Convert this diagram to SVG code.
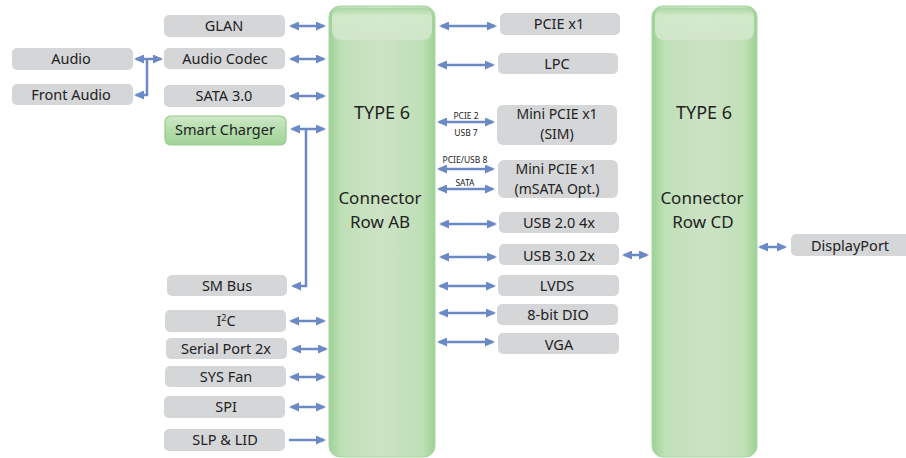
<svg xmlns="http://www.w3.org/2000/svg" width="906" height="458" viewBox="0 0 906 458">
<defs>
<linearGradient id="conn" x1="0" y1="0" x2="1" y2="0">
<stop offset="0" stop-color="#9dd196"/>
<stop offset="0.12" stop-color="#bfe0b6"/>
<stop offset="0.5" stop-color="#cde2c5"/>
<stop offset="0.88" stop-color="#bfe0b6"/>
<stop offset="1" stop-color="#9dd196"/>
</linearGradient>
<linearGradient id="gloss" x1="0" y1="0" x2="0" y2="1">
<stop offset="0" stop-color="#a8d79f"/>
<stop offset="0.25" stop-color="#d4ebcd"/>
<stop offset="1" stop-color="#d2e6cb"/>
</linearGradient>
<linearGradient id="sc" x1="0" y1="0" x2="0" y2="1">
<stop offset="0" stop-color="#cfe9c8"/>
<stop offset="0.5" stop-color="#b3dcaa"/>
<stop offset="1" stop-color="#a3d499"/>
</linearGradient>
<marker id="ah" viewBox="0 0 10 9" refX="8" refY="4.5" markerWidth="10" markerHeight="9" markerUnits="userSpaceOnUse" orient="auto-start-reverse">
<path d="M0,0 L10,4.5 L0,9 z" fill="#6b89c5"/>
</marker>
<style>
.box{fill:#d5d6d8;}
.t{font-family:"Noto Sans","DejaVu Sans",sans-serif;font-size:14.5px;fill:#222;text-anchor:middle;}
.t2{font-family:"Noto Sans","DejaVu Sans",sans-serif;font-size:14px;fill:#222;text-anchor:middle;}
.big{font-family:"Noto Sans","DejaVu Sans",sans-serif;font-size:18px;fill:#222;text-anchor:middle;}
.big2{font-family:"Noto Sans","DejaVu Sans",sans-serif;font-size:17px;fill:#222;text-anchor:middle;}
.s{font-family:"Noto Sans","DejaVu Sans",sans-serif;font-size:8.5px;fill:#222;text-anchor:middle;}
.a{stroke:#6b89c5;stroke-width:2.5;fill:none;}
.d{marker-start:url(#ah);marker-end:url(#ah);}
.e{marker-end:url(#ah);}
</style>
</defs>

<g id="connAB">
<rect x="329" y="6" width="106" height="451" rx="11" fill="url(#conn)" stroke="#a9d7a1" stroke-width="1"/>
<path d="M332,17 Q332,8 342,8 H422 Q432,8 432,17 V30 Q432,40 422,40 H342 Q332,40 332,30 Z" fill="url(#gloss)" opacity="0.9"/>
<text class="big" x="382" y="119">TYPE 6</text>
<text class="big2" x="380" y="204">Connector</text>
<text class="big2" x="380" y="228">Row AB</text>
</g>
<g id="connCD">
<rect x="652" y="6" width="105" height="451" rx="11" fill="url(#conn)" stroke="#a9d7a1" stroke-width="1"/>
<path d="M655,17 Q655,8 665,8 H744 Q754,8 754,17 V30 Q754,40 744,40 H665 Q655,40 655,30 Z" fill="url(#gloss)" opacity="0.9"/>
<text class="big" x="704" y="119">TYPE 6</text>
<text class="big2" x="702" y="204">Connector</text>
<text class="big2" x="703" y="228">Row CD</text>
</g>

<g id="glan"><rect class="box" x="164" y="15" width="121" height="22" rx="5"/><text class="t" x="224" y="31">GLAN</text></g>
<g id="audiocodec"><rect class="box" x="164" y="48" width="121" height="21" rx="5"/><text class="t" x="225" y="64">Audio Codec</text></g>
<g id="sata"><rect class="box" x="164" y="85" width="121" height="22" rx="5"/><text class="t" x="224" y="101">SATA 3.0</text></g>
<g id="smartcharger"><rect x="165" y="116" width="121" height="29" rx="6" fill="url(#sc)" stroke="#92cb8a" stroke-width="1.2"/><text class="t" x="225" y="135">Smart Charger</text></g>
<g id="audio"><rect class="box" x="12" y="48" width="121" height="22" rx="5"/><text class="t" x="71" y="64">Audio</text></g>
<g id="frontaudio"><rect class="box" x="12" y="84" width="121" height="21" rx="5"/><text class="t" x="71" y="100">Front Audio</text></g>
<g id="smbus"><rect class="box" x="167" y="275" width="120" height="21" rx="5"/><text class="t" x="227" y="291">SM Bus</text></g>
<g id="i2c"><rect class="box" x="165" y="310" width="121" height="22" rx="5"/><text class="t" x="226" y="326">I<tspan font-size="9" dy="-5">2</tspan><tspan dy="5">C</tspan></text></g>
<g id="serial"><rect class="box" x="166" y="338" width="121" height="21" rx="5"/><text class="t" x="226" y="354">Serial Port 2x</text></g>
<g id="sysfan"><rect class="box" x="165" y="366" width="121" height="21" rx="5"/><text class="t" x="226" y="382">SYS Fan</text></g>
<g id="spi"><rect class="box" x="164" y="396" width="121" height="22" rx="5"/><text class="t" x="226" y="412">SPI</text></g>
<g id="slp"><rect class="box" x="164" y="429" width="121" height="22" rx="5"/><text class="t" x="225" y="445">SLP &amp; LID</text></g>

<g id="pcie"><rect class="box" x="500" y="13" width="120" height="22" rx="5"/><text class="t" x="559" y="29">PCIE x1</text></g>
<g id="lpc"><rect class="box" x="498" y="53" width="120" height="21" rx="5"/><text class="t" x="557" y="69">LPC</text></g>
<g id="minisim"><rect class="box" x="497" y="105" width="120" height="40" rx="6"/><text class="t2" x="557" y="119">Mini PCIE x1</text><text class="t2" x="557" y="139">(SIM)</text></g>
<g id="minimsata"><rect class="box" x="498" y="160" width="120" height="38" rx="6"/><text class="t2" x="556" y="174">Mini PCIE x1</text><text class="t2" x="557" y="194">(mSATA Opt.)</text></g>
<g id="usb20"><rect class="box" x="499" y="212" width="120" height="21" rx="5"/><text class="t" x="559" y="228">USB 2.0 4x</text></g>
<g id="usb30"><rect class="box" x="499" y="244" width="120" height="21" rx="5"/><text class="t" x="559" y="261">USB 3.0 2x</text></g>
<g id="lvds"><rect class="box" x="498" y="275" width="121" height="21" rx="5"/><text class="t" x="557" y="291">LVDS</text></g>
<g id="dio"><rect class="box" x="497" y="304" width="121" height="21" rx="5"/><text class="t" x="558" y="320">8-bit DIO</text></g>
<g id="vga"><rect class="box" x="498" y="333" width="121" height="21" rx="5"/><text class="t" x="559" y="350">VGA</text></g>
<g id="displayport"><rect class="box" x="791" y="234" width="125" height="22" rx="5"/><text class="t" x="850" y="251">DisplayPort</text></g>

<g id="connectors">
<line class="a d" x1="291" y1="26" x2="324" y2="26"/>
<line class="a d" x1="291" y1="59" x2="324" y2="59"/>
<line class="a d" x1="291" y1="96" x2="324" y2="96"/>
<line class="a d" x1="292" y1="129" x2="324" y2="129"/>
<path class="a e" d="M306,129 V286 H293"/>
<line class="a d" x1="136" y1="59" x2="161" y2="59"/>
<path class="a e" d="M147,59 V95 H136"/>
<line class="a d" x1="291" y1="321" x2="324" y2="321"/>
<line class="a d" x1="293" y1="349" x2="326" y2="349"/>
<line class="a d" x1="291" y1="377" x2="324" y2="377"/>
<line class="a d" x1="291" y1="407" x2="324" y2="407"/>
<line class="a e" x1="289" y1="440" x2="324" y2="440"/>

<line class="a d" x1="441" y1="26" x2="495" y2="26"/>
<line class="a d" x1="439" y1="65" x2="493" y2="65"/>
<line class="a d" x1="439" y1="122" x2="493" y2="122"/>
<text class="s" x="466" y="119">PCIE 2</text>
<text class="s" x="466" y="136">USB 7</text>
<line class="a d" x1="439" y1="169" x2="493" y2="169"/>
<text class="s" x="465" y="163">PCIE/USB 8</text>
<line class="a d" x1="439" y1="189" x2="493" y2="189"/>
<text class="s" x="465" y="186">SATA</text>
<line class="a d" x1="441" y1="224" x2="495" y2="224"/>
<line class="a d" x1="441" y1="257" x2="495" y2="257"/>
<line class="a d" x1="440" y1="286" x2="494" y2="286"/>
<line class="a d" x1="440" y1="313" x2="494" y2="313"/>
<line class="a d" x1="439" y1="342" x2="493" y2="342"/>
<line class="a d" x1="624" y1="255" x2="647" y2="255"/>
<line class="a d" x1="760" y1="247" x2="785" y2="247"/>
</g>
</svg>
